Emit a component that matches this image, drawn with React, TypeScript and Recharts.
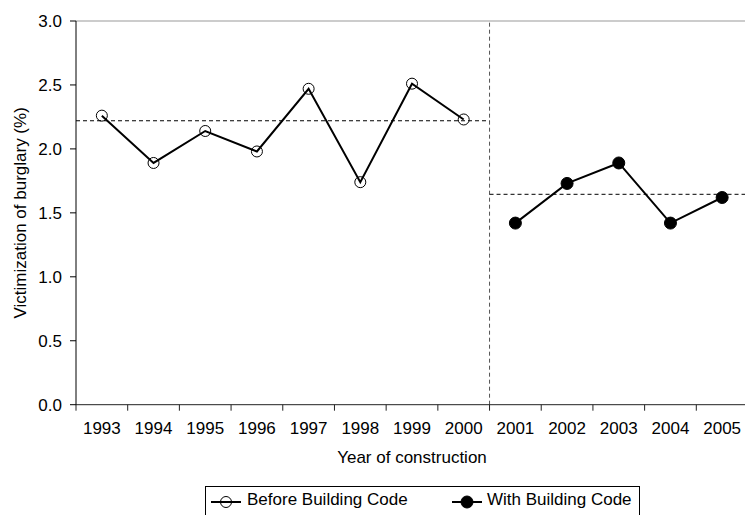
import { LineChart, Line, XAxis, YAxis, ReferenceLine } from 'recharts';

// years of construction, one per category
const years = [1993, 1994, 1995, 1996, 1997, 1998, 1999, 2000, 2001, 2002, 2003, 2004, 2005];
// victimization of burglary (%) before / with the building code
const beforeCode = [2.26, 1.89, 2.14, 1.98, 2.47, 1.74, 2.51, 2.23];
const withCode = [1.42, 1.73, 1.89, 1.42, 1.62];
// the dashed mean lines as drawn
const beforeMean = 2.22;
const withMean = 1.645;
const yTicks = [0, 0.5, 1.0, 1.5, 2.0, 2.5, 3.0];

const FONT = '"Liberation Sans", Arial, sans-serif';

const data = years.map((year, i) => ({
  year,
  before: i < beforeCode.length ? beforeCode[i] : null,
  with: i >= beforeCode.length ? withCode[i - beforeCode.length] : null,
}));

// tick marks sit between the categories
const first = years[0] - 0.5;
const last = years[years.length - 1] + 0.5;
const codeStart = years[beforeCode.length] - 0.5;
const boundaryTicks = [...years.map(y => y - 0.5), last];

const tickStyle = { fontSize: 17, fill: '#000', fontFamily: FONT };

function YTitle(props: any) {
  const vb = props.viewBox || {};
  const cy = vb.y + vb.height / 2;
  return (
    <text
      x={21}
      y={cy}
      transform={`rotate(-90, 21, ${cy})`}
      textAnchor="middle"
      dominantBaseline="central"
      style={{ fontSize: 17, fontFamily: FONT, fill: '#000' }}
    >
      Victimization of burglary (%)
    </text>
  );
}

function LegendBox() {
  return (
    <div
      style={{
        position: 'absolute',
        left: 205,
        top: 486,
        width: 435,
        height: 40,
        border: '1px solid #000',
        boxSizing: 'border-box',
        fontFamily: FONT,
        fontSize: 17,
        color: '#000',
      }}
    >
      <svg style={{ position: 'absolute', left: 5, top: 8 }} width={32} height={14}>
        <line x1={0} y1={7} x2={30} y2={7} stroke="#000" strokeWidth={2} />
        <circle cx={15} cy={7} r={5.5} fill="none" stroke="#000" strokeWidth={1} />
      </svg>
      <span style={{ position: 'absolute', left: 41, top: 3, whiteSpace: 'nowrap' }}>
        Before Building Code
      </span>
      <svg style={{ position: 'absolute', left: 246, top: 8 }} width={32} height={14}>
        <line x1={0} y1={7} x2={30} y2={7} stroke="#000" strokeWidth={2} />
        <circle cx={15} cy={7} r={6} fill="#000" stroke="#000" />
      </svg>
      <span style={{ position: 'absolute', left: 281, top: 3, whiteSpace: 'nowrap' }}>
        With Building Code
      </span>
    </div>
  );
}

export default function App() {
  return (
    <div
      style={{
        position: 'absolute',
        left: 0,
        top: 0,
        width: 745,
        height: 515,
        overflow: 'hidden',
        background: '#fff',
      }}
    >
      <LineChart
        width={760}
        height={515}
        data={data}
        margin={{ top: 21, right: 12, bottom: 49.3, left: 0 }}
      >
        <XAxis
          xAxisId={0}
          dataKey="year"
          type="number"
          domain={[first, last]}
          ticks={boundaryTicks}
          interval={0}
          tick={() => <g />}
          tickSize={6}
          height={1}
          axisLine={{ stroke: '#222' }}
          tickLine={{ stroke: '#222' }}
        />
        <XAxis
          xAxisId="labels"
          dataKey="year"
          type="number"
          domain={[first, last]}
          ticks={years}
          interval={0}
          axisLine={false}
          tickLine={false}
          tickSize={0}
          tickMargin={16.6}
          height={60}
          tick={tickStyle}
          label={{
            value: 'Year of construction',
            position: 'insideBottom',
            offset: 3,
            style: { fontSize: 17, fontFamily: FONT, fill: '#000' },
          }}
        />
        <YAxis
          domain={[0, 3]}
          ticks={yTicks}
          width={76}
          tickSize={6}
          tickMargin={8}
          tick={tickStyle}
          tickFormatter={(v: number) => v.toFixed(1)}
          axisLine={{ stroke: '#000' }}
          tickLine={{ stroke: '#000' }}
          label={<YTitle />}
        />
        <ReferenceLine y={3} stroke="#999" />
        <ReferenceLine x={codeStart} stroke="#555" strokeDasharray="4 3" />
        <ReferenceLine
          segment={[{ x: first, y: beforeMean }, { x: codeStart, y: beforeMean }]}
          stroke="#000"
          strokeDasharray="4 3"
        />
        <ReferenceLine
          segment={[{ x: codeStart, y: withMean }, { x: last, y: withMean }]}
          stroke="#000"
          strokeDasharray="4 3"
        />
        <Line
          dataKey="before"
          stroke="#000"
          strokeWidth={2}
          dot={{ r: 5.5, fill: 'none', stroke: '#000', strokeWidth: 1 }}
          isAnimationActive={false}
        />
        <Line
          dataKey="with"
          stroke="#000"
          strokeWidth={2}
          dot={{ r: 6, fill: '#000', stroke: '#000', strokeWidth: 1 }}
          isAnimationActive={false}
        />
      </LineChart>
      <LegendBox />
    </div>
  );
}
